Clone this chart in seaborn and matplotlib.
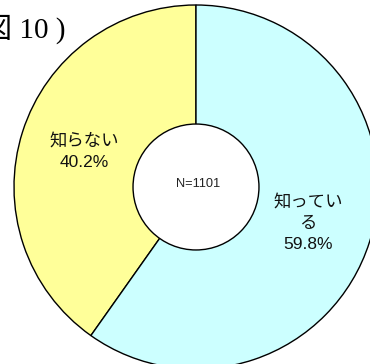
import seaborn as sns
import matplotlib.pyplot as plt
from matplotlib.patches import Circle
import numpy as np

# data
labels = ["知らない", "知っている"]
label_text = ["知らない", "知ってい\nる"]
values = [40.2, 59.8]
colors = ["#FFFF99", "#CCFFFF"]
n_text = "N=1101"
title = "図 10 )"

sns.set_theme(style="white")
plt.rcParams['font.family'] = ['Liberation Sans', 'Noto Sans CJK JP', 'DejaVu Sans']

W, H = 370, 364
fig = plt.figure(figsize=(W / 100, H / 100), dpi=100)
fig.patch.set_facecolor("white")

# pie centre (196, 187) px, radius 182 px
cx, cy, r = 196, 187, 182
ax = fig.add_axes([(cx - r) / W, (H - cy - r) / H, 2 * r / W, 2 * r / H])

wedges, _ = ax.pie(values, colors=colors, startangle=90, counterclock=True,
                   radius=1, wedgeprops=dict(edgecolor="black", linewidth=1.0))
for w in wedges:
    w.set_clip_on(False)
ax.set_xlim(-1, 1)
ax.set_ylim(-1, 1)
ax.axis("off")

hole = Circle((0, 0), 0.346, facecolor="white", edgecolor="black", linewidth=1.0, zorder=5)
ax.add_patch(hole)
ax.text(0.01, 0.018, n_text, ha="center", va="center", fontsize=9.2, color="#222222", zorder=6)

for w, txt, v in zip(wedges, label_text, values):
    mid = np.deg2rad((w.theta1 + w.theta2) / 2)
    x, y = 0.645 * np.cos(mid), 0.645 * np.sin(mid)
    ax.text(x, y, f"{txt}\n{v:.1f}%", ha="center", va="center", fontsize=12.5,
            linespacing=1.5, color="#111111", zorder=6)

fig.text(-17 / W, (H - 38) / H, title, ha="left", va="baseline", fontsize=21,
         family=['Liberation Serif', 'Noto Sans CJK JP'], color="black")

fig.savefig("out.png", dpi=100)
